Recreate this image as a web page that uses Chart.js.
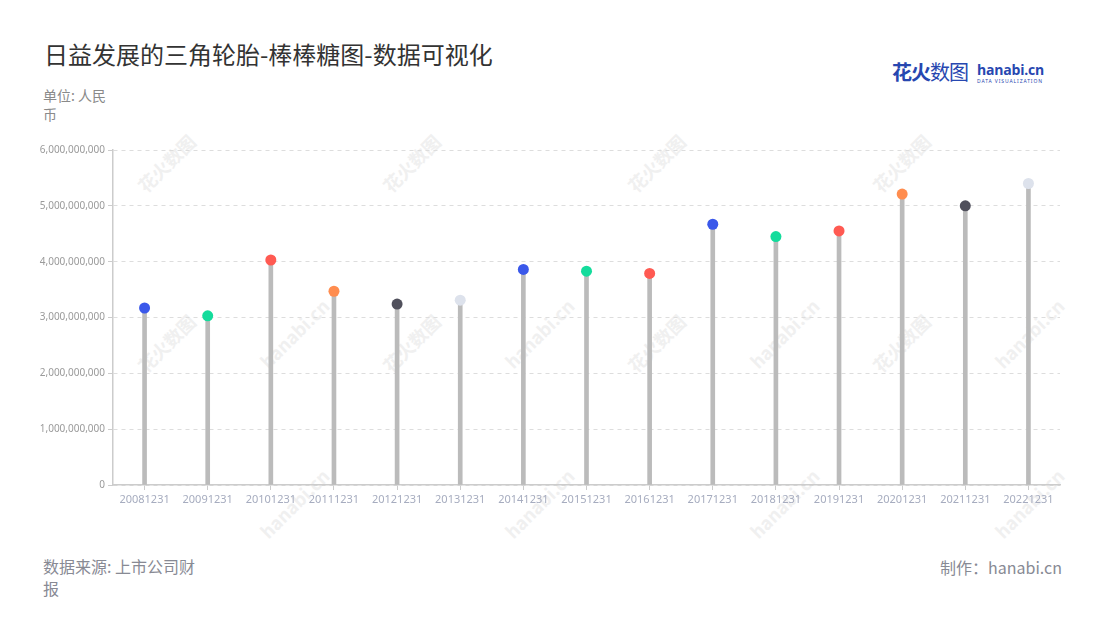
<!DOCTYPE html>
<html>
<head>
<meta charset="utf-8">
<script src="https://cdn.jsdelivr.net/npm/chart.js@4"></script>
<style>
  body { margin: 0; width: 1100px; height: 620px; background: #fff; position: relative; overflow: hidden;
         font-family: "Noto Sans CJK SC", "Noto Sans", sans-serif; }
  .abs { position: absolute; white-space: nowrap; }
  #title { left: 44px; top: 36px; font-size: 24px; color: #333; }
  #unit { left: 43px; top: 86px; font-size: 14px; color: #8a8a8a; line-height: 19px; white-space: normal; width: 72px; }
  #src { left: 43px; top: 555px; font-size: 16px; color: #888a94; line-height: 22px; }
  #made { right: 38px; top: 555px; font-size: 16px; color: #888a94; }
  #logo { left: 892px; top: 57px; }
  #logo .cn { font-size: 20px; color: #2747b0; font-weight: 700; letter-spacing: -1px; }
  #logo .cn2 { font-weight: 400; }
  #logo .en { position: absolute; left: 85px; top: 3px; font-family: "Open Sans", sans-serif; font-size: 14px; font-weight: 700; color: #2747b0; letter-spacing: -0.2px; }
  #logo .sub { position: absolute; left: 85px; top: 21px; font-family: "Noto Sans", sans-serif; font-size: 5px; color: #2747b0; letter-spacing: 0.9px; }
  .wm { position: absolute; color: #f0f0f0; font-size: 18px; font-weight: 700; transform: rotate(-45deg); white-space: nowrap; }
  #wrap { position: absolute; left: 0; top: 140px; width: 1100px; height: 380px; }
</style>
</head>
<body>
<div id="marks"></div>
<div id="title" class="abs">日益发展的三角轮胎-棒棒糖图-数据可视化</div>
<div id="logo" class="abs"><span class="cn">花火<span class="cn2">数图</span></span><span class="en">hanabi.cn</span><span class="sub">DATA VISUALIZATION</span></div>
<div id="unit" class="abs">单位: 人民币</div>
<div id="wrap"><canvas id="c"></canvas></div>
<div id="src" class="abs">数据来源: 上市公司财<br>报</div>
<div id="made" class="abs">制作：hanabi.cn</div>
<script>
'use strict';

const categories = ['20081231', '20091231', '20101231', '20111231', '20121231', '20131231', '20141231',
  '20151231', '20161231', '20171231', '20181231', '20191231', '20201231', '20211231', '20221231'];
const revenue = [3.17e9, 3.03e9, 4.03e9, 3.47e9, 3.24e9, 3.31e9, 3.86e9,
  3.83e9, 3.79e9, 4.67e9, 4.45e9, 4.55e9, 5.21e9, 5.00e9, 5.40e9];
const dotColors = ['#3a58ea', '#14dc9c', '#ff5a52', '#ff8d4f', '#50505c', '#dde2ec', '#3a58ea',
  '#14dc9c', '#ff5a52', '#3a58ea', '#14dc9c', '#ff5a52', '#ff8d4f', '#50505c', '#dde2ec'];
const yTicks = [0, 1e9, 2e9, 3e9, 4e9, 5e9, 6e9];

// faint watermarks
const marks = document.getElementById('marks');
[[130, 150], [375, 150], [620, 150], [865, 150],
 [250, 320], [495, 320], [740, 320], [985, 320],
 [130, 330], [375, 330], [620, 330], [865, 330],
 [250, 490], [495, 490], [740, 490], [985, 490]].forEach(([x, y], i) => {
  const d = document.createElement('div');
  d.className = 'wm';
  d.textContent = i % 8 < 4 ? '花火数图' : 'hanabi.cn';
  d.style.left = x + 'px';
  d.style.top = y + 'px';
  marks.appendChild(d);
});

new Chart(document.getElementById('c'), {
  data: {
    labels: categories,
    datasets: [
      {
        type: 'line',
        data: revenue,
        showLine: false,
        pointRadius: 5.5,
        pointHoverRadius: 5.5,
        pointBorderWidth: 0,
        pointBackgroundColor: dotColors,
        order: 0,
      },
      {
        type: 'bar',
        data: revenue,
        backgroundColor: '#bbbbbb',
        barThickness: 4,
        order: 1,
      },
    ],
  },
  options: {
    responsive: true,
    maintainAspectRatio: false,
    animation: false,
    layout: { padding: { top: 10, right: 40, left: 0, bottom: 0 } },
    plugins: { legend: { display: false }, tooltip: { enabled: false } },
    scales: {
      x: {
        offset: true,
        afterFit: s => { s.height = 35; },
        grid: { offset: false, drawOnChartArea: false, tickLength: 5, color: '#cccccc' },
        border: { color: '#cccccc', width: 1.5 },
        ticks: { color: '#a6acbf', font: { size: 11, family: 'Noto Sans' }, padding: 3, maxRotation: 0, autoSkip: false },
      },
      y: {
        min: 0, max: 6e9,
        afterFit: s => { s.width = 113; },
        afterBuildTicks: s => { s.ticks = yTicks.map(v => ({ value: v })); },
        grid: { color: '#dddddd', tickLength: 5, tickBorderDash: [0, 0], tickColor: '#cccccc' },
        border: { color: '#cccccc', width: 1.5, dash: [4, 4] },
        ticks: {
          color: '#9a9a9a', font: { size: 10, family: 'Noto Sans' }, padding: 3,
          callback: v => v.toLocaleString('en-US'),
        },
      },
    },
  },
});
</script>
</body>
</html>
